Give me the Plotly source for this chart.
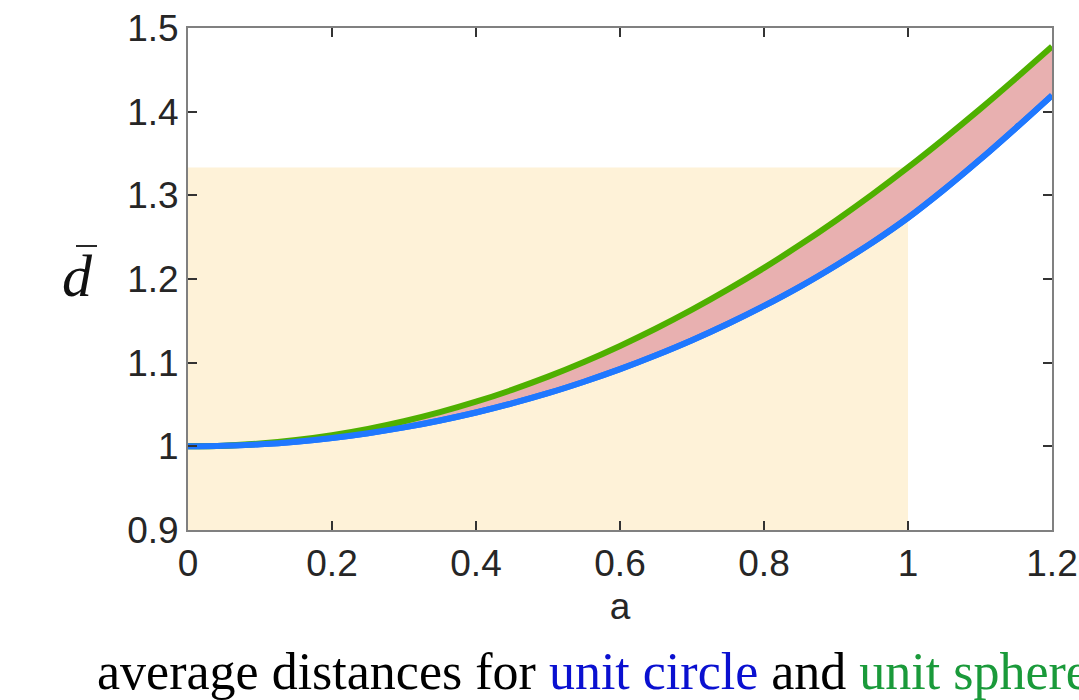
import plotly.graph_objects as go

# data
a_vals = [0.0, 0.05, 0.1, 0.15, 0.2, 0.25, 0.3, 0.35, 0.4, 0.45, 0.5, 0.55, 0.6,
          0.65, 0.7, 0.75, 0.8, 0.85, 0.9, 0.95, 1.0, 1.05, 1.1, 1.15, 1.2]
circle_d = [1.0, 1.0006, 1.0025, 1.0056, 1.0100, 1.0157, 1.0226, 1.0309, 1.0404,
            1.0513, 1.0635, 1.0772, 1.0922, 1.1088, 1.1268, 1.1465, 1.1678, 1.1909,
            1.2162, 1.2433, 1.2732, 1.3068, 1.3428, 1.3806, 1.4195]
sphere_d = [1.0, 1.0008, 1.0033, 1.0075, 1.0133, 1.0208, 1.0300, 1.0408, 1.0533,
            1.0675, 1.0833, 1.1008, 1.1200, 1.1408, 1.1633, 1.1875, 1.2133, 1.2408,
            1.2700, 1.3008, 1.3333, 1.3675, 1.4030, 1.4399, 1.4778]
region_a = [0.0, 1.0]
region_top = 1.3333

x_ticks = [0, 0.2, 0.4, 0.6, 0.8, 1.0, 1.2]
x_labels = ["0", "0.2", "0.4", "0.6", "0.8", "1", "1.2"]
y_ticks = [0.9, 1.0, 1.1, 1.2, 1.3, 1.4, 1.5]
y_labels = ["0.9", "1", "1.1", "1.2", "1.3", "1.4", "1.5"]

W, H = 1079, 700
ML, MR, MT, MB = 188, 27, 28, 170
PW, PH = W - ML - MR, H - MT - MB


def px(xp):
    return (xp - ML) / PW


def py(yp):
    return (H - MB - yp) / PH


fig = go.Figure()

fig.add_shape(type="rect", xref="x", yref="y",
              x0=region_a[0], x1=region_a[1], y0=0.9, y1=region_top,
              fillcolor="#fef2d8", line=dict(width=0), layer="below")

fig.add_trace(go.Scatter(x=a_vals, y=circle_d, mode="lines",
                         line=dict(color="#1f78ff", width=6, shape="spline"),
                         showlegend=False, hoverinfo="skip"))
fig.add_trace(go.Scatter(x=a_vals, y=sphere_d, mode="lines",
                         line=dict(color="#4fb000", width=6, shape="spline"),
                         fill="tonexty", fillcolor="#e8b0b0",
                         showlegend=False, hoverinfo="skip"))
fig.add_trace(go.Scatter(x=a_vals, y=circle_d, mode="lines",
                         line=dict(color="#1f78ff", width=6, shape="spline"),
                         showlegend=False, hoverinfo="skip"))

tick_font = dict(family="Liberation Sans, Arial, Helvetica", size=37, color="#262626")

fig.update_xaxes(range=[0, 1.2], tickvals=x_ticks, ticktext=x_labels,
                 ticks="inside", ticklen=9, tickwidth=1.5, tickcolor="#333333",
                 showline=True, linecolor="#808080", linewidth=2, mirror="ticks",
                 showgrid=False, zeroline=False, tickfont=tick_font, automargin=False,
                 title=dict(text="a", font=tick_font, standoff=10))
fig.update_yaxes(range=[0.9, 1.5], tickvals=y_ticks, ticktext=y_labels,
                 ticks="inside", ticklen=9, tickwidth=1.5, tickcolor="#333333",
                 showline=True, linecolor="#808080", linewidth=2, mirror="ticks",
                 showgrid=False, zeroline=False, tickfont=tick_font, automargin=False)

# y label: italic d with a bar above it
fig.add_annotation(xref="paper", yref="paper", x=px(77), y=py(276),
                   xanchor="center", yanchor="middle", showarrow=False,
                   text="<i>d</i>",
                   font=dict(family="Liberation Serif, Times New Roman, serif", size=60, color="#111111"))
fig.add_shape(type="line", xref="paper", yref="paper",
              x0=px(76), x1=px(97), y0=py(246), y1=py(246),
              line=dict(color="#111111", width=1.8))

fig.add_annotation(xref="paper", yref="paper", x=px(95), y=py(671),
                   xanchor="left", yanchor="middle", showarrow=False,
                   text=("average distances for <span style='color:#0a10d0'>unit circle</span>"
                         " and <span style='color:#1a9a3a'>unit sphere</span>"),
                   font=dict(family="Liberation Serif, Times New Roman, serif", size=52, color="#000000"))

fig.update_layout(width=W, height=H,
                  margin=dict(l=ML, r=MR, t=MT, b=MB),
                  plot_bgcolor="white", paper_bgcolor="white")

fig.write_html("out.html", config={"displayModeBar": False},
               post_script="document.body.style.margin='0';document.body.style.overflow='hidden';")
